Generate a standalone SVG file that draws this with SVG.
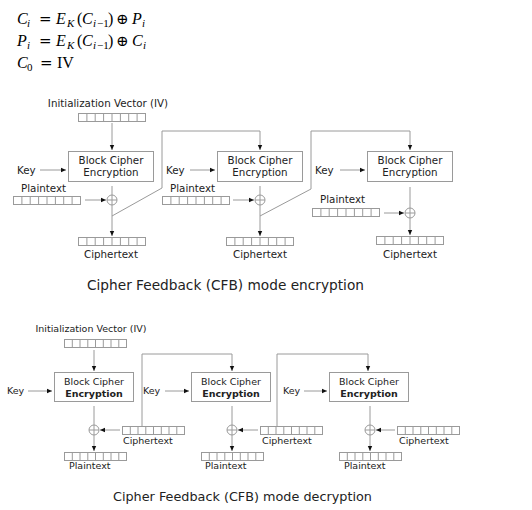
<svg xmlns="http://www.w3.org/2000/svg" width="532" height="510" viewBox="0 0 532 510">
<defs>
<style>
text{font-family:"DejaVu Sans","Verdana",sans-serif;fill:#222}
.f{font-family:"Liberation Serif","Times New Roman",serif;font-size:16px;fill:#000}
.op{font-family:"DejaVu Serif",serif;font-size:15px}
.it{font-style:italic}
.sb{font-size:11px}
.e{font-size:10.3px}
.d{font-size:9.5px}
.ln{stroke:#9a9a9a;stroke-width:1;fill:none}
.bx{stroke:#9a9a9a;stroke-width:1;fill:#fff}
.ar{stroke:#9a9a9a;stroke-width:1;fill:none;marker-end:url(#ah)}
.reg{stroke:#9a9a9a;stroke-width:1;fill:#fff}
.t1{font-size:13.7px}
.t2{font-size:12.8px}
</style>
<marker id="ah" markerUnits="userSpaceOnUse" markerWidth="6" markerHeight="6" refX="5" refY="3" orient="auto">
<path d="M0,0.8 L5,3 L0,5.2 Z" fill="#111"/>
</marker>
</defs>

<g id="formulas">
<text class="f" y="24"><tspan class="it" x="17">C</tspan><tspan class="it sb" x="27" y="27">i</tspan><tspan class="op" x="39" y="24">=</tspan><tspan class="it" x="56">E</tspan><tspan class="it sb" x="67" y="27">K</tspan><tspan x="77" y="24">(</tspan><tspan class="it" x="82">C</tspan><tspan class="sb" x="93" y="27"><tspan class="it">i</tspan><tspan x="97">−1</tspan></tspan><tspan x="108" y="24">)</tspan><tspan class="op" x="116">⊕</tspan><tspan class="it" x="132">P</tspan><tspan class="it sb" x="142" y="27">i</tspan></text>
<text class="f" y="46"><tspan class="it" x="17">P</tspan><tspan class="it sb" x="27" y="49">i</tspan><tspan class="op" x="39" y="46">=</tspan><tspan class="it" x="56">E</tspan><tspan class="it sb" x="67" y="49">K</tspan><tspan x="77" y="46">(</tspan><tspan class="it" x="82">C</tspan><tspan class="sb" x="93" y="49"><tspan class="it">i</tspan><tspan x="97">−1</tspan></tspan><tspan x="108" y="46">)</tspan><tspan class="op" x="116">⊕</tspan><tspan class="it" x="132">C</tspan><tspan class="it sb" x="143" y="49">i</tspan></text>
<text class="f" y="68"><tspan class="it" x="17">C</tspan><tspan class="sb" x="27" y="71">0</tspan><tspan class="op" x="40" y="68">=</tspan><tspan x="57">IV</tspan></text>
</g>

<!-- ============ ENCRYPTION ============ -->
<g id="connectors-enc">
<line class="ar" x1="112" y1="123" x2="112" y2="150"/>
<line class="ar" x1="40" y1="170" x2="66" y2="170"/>
<line class="ar" x1="85" y1="200" x2="106" y2="200"/>
<line class="ln" x1="112" y1="186" x2="112" y2="195"/>
<line class="ar" x1="112" y1="205" x2="112" y2="236"/>
<polyline class="ar" points="112,216 162,188 162,131 260,131 260,150"/>

<line class="ar" x1="190" y1="170" x2="215" y2="170"/>
<line class="ar" x1="233" y1="200" x2="254" y2="200"/>
<line class="ln" x1="260" y1="186" x2="260" y2="195"/>
<line class="ar" x1="260" y1="205" x2="260" y2="236"/>
<polyline class="ar" points="260,216 311,189 311,131 410,131 410,150"/>

<line class="ar" x1="340" y1="170" x2="365" y2="170"/>
<line class="ar" x1="384" y1="213" x2="404" y2="213"/>
<line class="ln" x1="410" y1="187" x2="410" y2="208"/>
<line class="ar" x1="410" y1="218" x2="410" y2="235"/>
</g>

<g id="enc-iv">
<text class="e" x="108" y="107" text-anchor="middle">Initialization Vector (IV)</text>
<rect class="reg" x="78.5" y="113.5" width="67" height="8"/>
<path class="ln" d="M86.9,113.5v8M95.2,113.5v8M103.6,113.5v8M112,113.5v8M120.4,113.5v8M128.7,113.5v8M137.1,113.5v8"/>
</g>

<g id="enc-block1">
<rect class="bx" x="68.5" y="151.5" width="85" height="30"/>
<text class="e" x="111" y="164" text-anchor="middle">Block Cipher</text>
<text class="e" x="111" y="176" text-anchor="middle">Encryption</text>
</g>
<g id="enc-key1"><text class="e" x="17" y="174">Key</text></g>
<g id="enc-pt1">
<text class="e" x="21" y="192">Plaintext</text>
<rect class="reg" x="13.5" y="196.5" width="67" height="8"/>
<path class="ln" d="M21.9,196.5v8M30.2,196.5v8M38.6,196.5v8M47,196.5v8M55.4,196.5v8M63.7,196.5v8M72.1,196.5v8"/>
</g>
<g id="enc-xor1">
<circle class="ln" cx="112" cy="200" r="5"/><path class="ln" d="M107,200h10M112,195v10"/>
</g>
<g id="enc-ct1">
<rect class="reg" x="78.5" y="237.5" width="67" height="8"/>
<path class="ln" d="M86.9,237.5v8M95.2,237.5v8M103.6,237.5v8M112,237.5v8M120.4,237.5v8M128.7,237.5v8M137.1,237.5v8"/>
<text class="e" x="111" y="258" text-anchor="middle">Ciphertext</text>
</g>

<g id="enc-block2">
<rect class="bx" x="217.5" y="151.5" width="85" height="30"/>
<text class="e" x="260" y="164" text-anchor="middle">Block Cipher</text>
<text class="e" x="260" y="176" text-anchor="middle">Encryption</text>
</g>
<g id="enc-key2"><text class="e" x="166" y="174">Key</text></g>
<g id="enc-pt2">
<text class="e" x="170" y="192">Plaintext</text>
<rect class="reg" x="162.5" y="196.5" width="67" height="8"/>
<path class="ln" d="M170.9,196.5v8M179.2,196.5v8M187.6,196.5v8M196,196.5v8M204.4,196.5v8M212.7,196.5v8M221.1,196.5v8"/>
</g>
<g id="enc-xor2">
<circle class="ln" cx="260" cy="200" r="5"/><path class="ln" d="M255,200h10M260,195v10"/>
</g>
<g id="enc-ct2">
<rect class="reg" x="226.5" y="237.5" width="67" height="8"/>
<path class="ln" d="M234.9,237.5v8M243.2,237.5v8M251.6,237.5v8M260,237.5v8M268.4,237.5v8M276.7,237.5v8M285.1,237.5v8"/>
<text class="e" x="260" y="258" text-anchor="middle">Ciphertext</text>
</g>

<g id="enc-block3">
<rect class="bx" x="367.5" y="151.5" width="85" height="30"/>
<text class="e" x="410" y="164" text-anchor="middle">Block Cipher</text>
<text class="e" x="410" y="176" text-anchor="middle">Encryption</text>
</g>
<g id="enc-key3"><text class="e" x="315" y="174">Key</text></g>
<g id="enc-pt3">
<text class="e" x="320" y="203">Plaintext</text>
<rect class="reg" x="312.5" y="208.5" width="67" height="8"/>
<path class="ln" d="M320.9,208.5v8M329.2,208.5v8M337.6,208.5v8M346,208.5v8M354.4,208.5v8M362.7,208.5v8M371.1,208.5v8"/>
</g>
<g id="enc-xor3">
<circle class="ln" cx="410" cy="213" r="5"/><path class="ln" d="M405,213h10M410,208v10"/>
</g>
<g id="enc-ct3">
<rect class="reg" x="376.5" y="236.5" width="67" height="8"/>
<path class="ln" d="M384.9,236.5v8M393.2,236.5v8M401.6,236.5v8M410,236.5v8M418.4,236.5v8M426.7,236.5v8M435.1,236.5v8"/>
<text class="e" x="410" y="258" text-anchor="middle">Ciphertext</text>
</g>

<g id="title-enc"><text class="t1" x="87" y="290">Cipher Feedback (CFB) mode encryption</text></g>

<!-- ============ DECRYPTION ============ -->
<g id="connectors-dec">
<line class="ar" x1="94" y1="350" x2="94" y2="371"/>
<line class="ar" x1="28" y1="391" x2="52" y2="391"/>
<line class="ln" x1="94" y1="406" x2="94" y2="425"/>
<line class="ar" x1="94" y1="435" x2="94" y2="451"/>
<line class="ar" x1="120" y1="430" x2="100" y2="430"/>
<polyline class="ar" points="142,427 142,354 232,354 232,371"/>

<line class="ar" x1="165" y1="391" x2="189" y2="391"/>
<line class="ln" x1="232" y1="406" x2="232" y2="425"/>
<line class="ar" x1="232" y1="435" x2="232" y2="451"/>
<line class="ar" x1="258" y1="430" x2="238" y2="430"/>
<polyline class="ar" points="277,427 277,354 368,354 368,371"/>

<line class="ar" x1="304" y1="391" x2="327" y2="391"/>
<line class="ln" x1="370" y1="406" x2="370" y2="425"/>
<line class="ar" x1="370" y1="435" x2="370" y2="451"/>
<line class="ar" x1="395" y1="430" x2="376" y2="430"/>
</g>

<g id="dec-iv">
<text class="d" x="91" y="332" text-anchor="middle">Initialization Vector (IV)</text>
<rect class="reg" x="64.5" y="339.5" width="62" height="8"/>
<path class="ln" d="M72.3,339.5v8M80,339.5v8M87.8,339.5v8M95.5,339.5v8M103.3,339.5v8M111,339.5v8M118.8,339.5v8"/>
</g>

<g id="dec-block1">
<rect class="bx" x="54.5" y="372.5" width="79" height="29"/>
<text class="d" x="94" y="385" text-anchor="middle">Block Cipher</text>
<text class="d" x="94" y="397" text-anchor="middle" font-weight="bold">Encryption</text>
</g>
<g id="dec-key1"><text class="d" x="7" y="394">Key</text></g>
<g id="dec-xor1">
<circle class="ln" cx="94" cy="430" r="5"/><path class="ln" d="M89,430h10M94,425v10"/>
</g>
<g id="dec-ct1">
<rect class="reg" x="122.5" y="426.5" width="62" height="8"/>
<path class="ln" d="M130.3,426.5v8M138,426.5v8M145.8,426.5v8M153.5,426.5v8M161.3,426.5v8M169,426.5v8M176.8,426.5v8"/>
<text class="d" x="123" y="444">Ciphertext</text>
</g>
<g id="dec-pt1">
<rect class="reg" x="64.5" y="452.5" width="62" height="8"/>
<path class="ln" d="M72.3,452.5v8M80,452.5v8M87.8,452.5v8M95.5,452.5v8M103.3,452.5v8M111,452.5v8M118.8,452.5v8"/>
<text class="d" x="69" y="469">Plaintext</text>
</g>

<g id="dec-block2">
<rect class="bx" x="191.5" y="372.5" width="79" height="29"/>
<text class="d" x="231" y="385" text-anchor="middle">Block Cipher</text>
<text class="d" x="231" y="397" text-anchor="middle" font-weight="bold">Encryption</text>
</g>
<g id="dec-key2"><text class="d" x="143" y="394">Key</text></g>
<g id="dec-xor2">
<circle class="ln" cx="232" cy="430" r="5"/><path class="ln" d="M227,430h10M232,425v10"/>
</g>
<g id="dec-ct2">
<rect class="reg" x="260.5" y="426.5" width="62" height="8"/>
<path class="ln" d="M268.3,426.5v8M276,426.5v8M283.8,426.5v8M291.5,426.5v8M299.3,426.5v8M307,426.5v8M314.8,426.5v8"/>
<text class="d" x="262" y="444">Ciphertext</text>
</g>
<g id="dec-pt2">
<rect class="reg" x="201.5" y="452.5" width="62" height="8"/>
<path class="ln" d="M209.3,452.5v8M217,452.5v8M224.8,452.5v8M232.5,452.5v8M240.3,452.5v8M248,452.5v8M255.8,452.5v8"/>
<text class="d" x="205" y="469">Plaintext</text>
</g>

<g id="dec-block3">
<rect class="bx" x="329.5" y="372.5" width="79" height="29"/>
<text class="d" x="369" y="385" text-anchor="middle">Block Cipher</text>
<text class="d" x="369" y="397" text-anchor="middle" font-weight="bold">Encryption</text>
</g>
<g id="dec-key3"><text class="d" x="283" y="394">Key</text></g>
<g id="dec-xor3">
<circle class="ln" cx="370" cy="430" r="5"/><path class="ln" d="M365,430h10M370,425v10"/>
</g>
<g id="dec-ct3">
<rect class="reg" x="397.5" y="426.5" width="62" height="8"/>
<path class="ln" d="M405.3,426.5v8M413,426.5v8M420.8,426.5v8M428.5,426.5v8M436.3,426.5v8M444,426.5v8M451.8,426.5v8"/>
<text class="d" x="399" y="444">Ciphertext</text>
</g>
<g id="dec-pt3">
<rect class="reg" x="339.5" y="452.5" width="62" height="8"/>
<path class="ln" d="M347.3,452.5v8M355,452.5v8M362.8,452.5v8M370.5,452.5v8M378.3,452.5v8M386,452.5v8M393.8,452.5v8"/>
<text class="d" x="344" y="469">Plaintext</text>
</g>

<g id="title-dec"><text class="t2" x="113" y="501">Cipher Feedback (CFB) mode decryption</text></g>
</svg>
